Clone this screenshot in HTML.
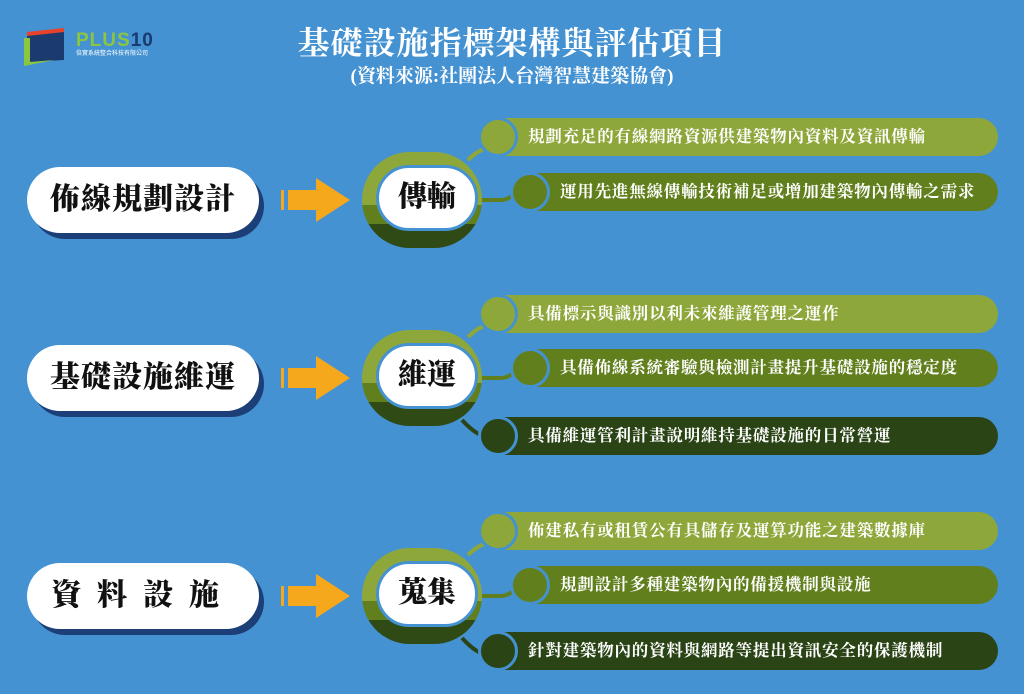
<!DOCTYPE html>
<html><head><meta charset="utf-8"><style>
*{margin:0;padding:0;box-sizing:border-box}
body{width:1024px;height:694px;background:#4492d2;position:relative;overflow:hidden;font-family:"Liberation Serif","Noto Serif CJK SC","Noto Serif CJK TC",serif}
.a{position:absolute}
.title{left:0;width:1024px;text-align:center;color:#fff;font-weight:bold}
.pill{background:#fff;border-radius:34px;box-shadow:5px 6px 0 #1d3f77;color:#111;font-weight:900;font-size:30px;text-align:center;line-height:66px;letter-spacing:1px}
.bar{height:38px;border-radius:19px;color:#fff;font-weight:bold;font-size:16.5px;line-height:38px;letter-spacing:0.8px;white-space:nowrap}
.dot{width:40px;height:40px;border-radius:50%;border:3px solid #4492d2}
.l{background:#8ea73a}.m{background:#61801d}.d{background:#2a4416}
.ring{width:120px;height:96px;border-radius:48px;background:linear-gradient(#8ea73a 0,#8ea73a 55%,#61801d 55%,#61801d 75%,#2f4a14 75%)}
.inner{background:#fff;border-radius:34px;border:3px solid #4492d2;font-weight:900;font-size:29px;text-align:center;color:#111;line-height:58px}
</style></head><body>
<svg class="a" style="left:24px;top:26px" width="170" height="42">
<polygon points="3,6 40,2 40,26 3,28" fill="#e8432a"/>
<polygon points="3,10 40,6 40,34 3,36" fill="#1b3a6e"/>
<polygon points="0,12 6,12 6,36 30,34 0,40" fill="#8cc63f"/>
<text x="52" y="20" font-family="Liberation Sans" font-weight="bold" font-size="19" fill="#8cc63f" letter-spacing="1">PLUS<tspan fill="#1b3a6e">10</tspan></text>
<text x="52" y="29" font-family="Noto Sans CJK TC,sans-serif" font-size="6" fill="#fff">倍實系統整合科技有限公司</text>
</svg>
<div class="a title" style="top:18px;font-size:32px;letter-spacing:1px">基礎設施指標架構與評估項目</div>
<div class="a title" style="top:61px;font-size:19px">(資料來源:社團法人台灣智慧建築協會)</div>

<div class="a pill" style="left:27px;top:167px;width:232px;height:66px">佈線規劃設計</div>
<div class="a pill" style="left:27px;top:345px;width:232px;height:66px">基礎設施維運</div>
<div class="a pill" style="left:27px;top:563px;width:232px;height:66px;letter-spacing:16px">資料設施</div>

<svg class="a" style="left:278px;top:176px" width="80" height="50"><rect x="3" y="14" width="3" height="20" fill="#f5a81c"/><polygon points="10,14 38,14 38,2 72,24 38,46 38,34 10,34" fill="#f5a81c"/></svg>
<svg class="a" style="left:278px;top:354px" width="80" height="50"><rect x="3" y="14" width="3" height="20" fill="#f5a81c"/><polygon points="10,14 38,14 38,2 72,24 38,46 38,34 10,34" fill="#f5a81c"/></svg>
<svg class="a" style="left:278px;top:572px" width="80" height="50"><rect x="3" y="14" width="3" height="20" fill="#f5a81c"/><polygon points="10,14 38,14 38,2 72,24 38,46 38,34 10,34" fill="#f5a81c"/></svg>

<!-- connectors -->
<svg class="a" style="left:0;top:0" width="1024" height="694" fill="none" stroke-width="4">
<path d="M468,160 Q478,150 488,148" stroke="#8ea73a"/>
<path d="M480,200 L500,200 Q510,200 515,192" stroke="#61801d"/>
<path d="M468,337 Q478,327 488,325" stroke="#8ea73a"/>
<path d="M480,378 L500,378 Q510,378 515,370" stroke="#61801d"/>
<path d="M462,420 Q475,434 484,436" stroke="#2a4416"/>
<path d="M468,555 Q478,545 488,543" stroke="#8ea73a"/>
<path d="M480,596 L500,596 Q510,596 515,588" stroke="#61801d"/>
<path d="M462,638 Q475,652 484,654" stroke="#2a4416"/>
</svg>

<div class="a bar l" style="left:482px;top:118px;width:516px;padding-left:46px">規劃充足的有線網路資源供建築物內資料及資訊傳輸</div>
<div class="a dot l" style="left:478px;top:117px"></div>
<div class="a bar m" style="left:514px;top:173px;width:484px;padding-left:46px">運用先進無線傳輸技術補足或增加建築物內傳輸之需求</div>
<div class="a dot m" style="left:510px;top:172px"></div>
<div class="a ring" style="left:362px;top:152px"></div>
<div class="a inner" style="left:376px;top:165px;width:102px;height:66px">傳輸</div>

<div class="a bar l" style="left:482px;top:295px;width:516px;padding-left:46px">具備標示與識別以利未來維護管理之運作</div>
<div class="a dot l" style="left:478px;top:294px"></div>
<div class="a bar m" style="left:514px;top:349px;width:484px;padding-left:46px">具備佈線系統審驗與檢測計畫提升基礎設施的穩定度</div>
<div class="a dot m" style="left:510px;top:348px"></div>
<div class="a bar d" style="left:482px;top:417px;width:516px;padding-left:46px">具備維運管利計畫說明維持基礎設施的日常營運</div>
<div class="a dot d" style="left:478px;top:416px"></div>
<div class="a ring" style="left:362px;top:330px"></div>
<div class="a inner" style="left:376px;top:343px;width:102px;height:66px">維運</div>

<div class="a bar l" style="left:482px;top:512px;width:516px;padding-left:46px">佈建私有或租賃公有具儲存及運算功能之建築數據庫</div>
<div class="a dot l" style="left:478px;top:511px"></div>
<div class="a bar m" style="left:514px;top:566px;width:484px;padding-left:46px">規劃設計多種建築物內的備援機制與設施</div>
<div class="a dot m" style="left:510px;top:565px"></div>
<div class="a bar d" style="left:482px;top:632px;width:516px;padding-left:46px">針對建築物內的資料與網路等提出資訊安全的保護機制</div>
<div class="a dot d" style="left:478px;top:631px"></div>
<div class="a ring" style="left:362px;top:548px"></div>
<div class="a inner" style="left:376px;top:561px;width:102px;height:66px">蒐集</div>
</body></html>
